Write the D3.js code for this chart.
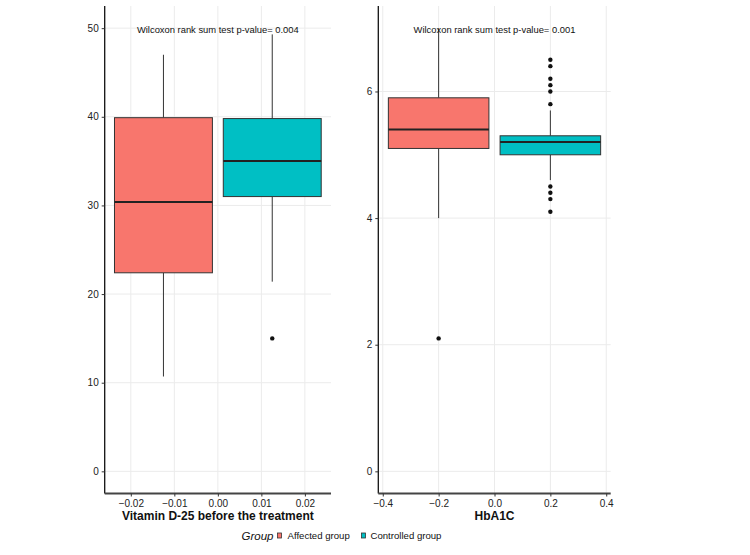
<!DOCTYPE html>
<html><head><meta charset="utf-8">
<script src="https://cdn.jsdelivr.net/npm/d3@7"></script>
<style>body{margin:0;background:#fff}svg{display:block;font-family:"Liberation Sans",Arial,sans-serif}</style>
</head><body><svg id="c" width="750" height="555"></svg>
<script>
// ---- data ----
const groups = ["Affected group", "Controlled group"];
const groupColors = ["#F8766D", "#00BFC4"];
// Vitamin D-25 before the treatment: [whiskerLow, Q1, median, Q3, whiskerHigh]
const vitDStats = [[10.7, 22.4, 30.4, 39.9, 47.0], [21.4, 31.0, 35.0, 39.8, 49.3]];
const vitDOutliers = [[], [15.0]];
const vitDPositions = [-0.0125, 0.0125];
const vitDYTicks = [0, 10, 20, 30, 40, 50];
const vitDXTicks = [-0.02, -0.01, 0.00, 0.01, 0.02];
// HbA1C
const hbaStats = [[4.0, 5.1, 5.4, 5.9, 7.0], [4.6, 5.0, 5.2, 5.3, 5.7]];
const hbaOutliers = [[2.1], [6.5, 6.4, 6.2, 6.1, 6.0, 5.8, 4.5, 4.4, 4.3, 4.1]];
const hbaPositions = [-0.2, 0.2];
const hbaYTicks = [0, 2, 4, 6];
const hbaXTicks = [-0.4, -0.2, 0.0, 0.2, 0.4];
const panelTitles = ["Vitamin D-25 before the treatment", "HbA1C"];
const pTexts = ["Wilcoxon rank sum test p-value= 0.004", "Wilcoxon rank sum test p-value= 0.001"];

const svg = d3.select("#c");

function panel(cfg) {
  const x = d3.scaleLinear().domain(cfg.xDomain).range([cfg.left, cfg.right]);
  const y = d3.scaleLinear().domain(cfg.yDomain).range([cfg.bottom, cfg.top]);
  const g = svg.append("g");
  // grid
  g.selectAll(".gx").data(cfg.xTicks).join("line")
    .attr("x1", d => x(d)).attr("x2", d => x(d)).attr("y1", cfg.top).attr("y2", cfg.bottom)
    .attr("stroke", "#ebebeb").attr("stroke-width", 1);
  g.selectAll(".gy").data(cfg.yTicks).join("line")
    .attr("y1", d => y(d)).attr("y2", d => y(d)).attr("x1", cfg.left).attr("x2", cfg.right)
    .attr("stroke", "#ebebeb").attr("stroke-width", 1);
  // boxes
  cfg.stats.forEach((s, i) => {
    const cx = x(cfg.pos[i]);
    const hw = (x(cfg.halfW) - x(0));
    const bg = g.append("g");
    bg.append("line").attr("x1", cx).attr("x2", cx).attr("y1", y(s[4])).attr("y2", y(s[3]))
      .attr("stroke", "#333").attr("stroke-width", 1);
    bg.append("line").attr("x1", cx).attr("x2", cx).attr("y1", y(s[1])).attr("y2", y(s[0]))
      .attr("stroke", "#333").attr("stroke-width", 1);
    bg.append("rect").attr("x", cx - hw).attr("width", 2 * hw)
      .attr("y", y(s[3])).attr("height", y(s[1]) - y(s[3]))
      .attr("fill", groupColors[i]).attr("stroke", "#333").attr("stroke-width", 1);
    bg.append("line").attr("x1", cx - hw).attr("x2", cx + hw).attr("y1", y(s[2])).attr("y2", y(s[2]))
      .attr("stroke", "#222").attr("stroke-width", 2);
    bg.selectAll("circle").data(cfg.outliers[i]).join("circle")
      .attr("cx", cx).attr("cy", d => y(d)).attr("r", 2.2).attr("fill", "#111");
  });
  // axes
  const ya = g.append("g").attr("transform", `translate(${cfg.left},0)`)
    .call(d3.axisLeft(y).tickValues(cfg.yTicks).tickFormat(d3.format("d")).tickSize(3).tickPadding(3));
  ya.select(".domain").attr("d", `M0,${cfg.top}V${cfg.bottom}`).attr("stroke", "#111").attr("stroke-width", 1.3);
  ya.selectAll(".tick line").attr("stroke", "#333");
  ya.selectAll(".tick text").attr("fill", "#222").attr("font-size", 10).attr("font-family", "Liberation Sans, Arial, sans-serif");
  const xa = g.append("g").attr("transform", `translate(0,${cfg.bottom})`)
    .call(d3.axisBottom(x).tickValues(cfg.xTicks).tickFormat(d3.format(cfg.xFmt)).tickSize(3).tickPadding(3.5));
  xa.select(".domain").attr("d", `M${cfg.left},0H${cfg.right}`).attr("stroke", "#444").attr("stroke-width", 2);
  xa.selectAll(".tick line").attr("stroke", "#333");
  xa.selectAll(".tick text").attr("fill", "#222").attr("font-size", 10).attr("font-family", "Liberation Sans, Arial, sans-serif");
  // titles
  g.append("text").attr("x", (cfg.left + cfg.right) / 2).attr("y", 520)
    .attr("text-anchor", "middle").attr("font-weight", "bold").attr("font-size", 12).attr("fill", "#111")
    .text(cfg.title);
  g.append("text").attr("x", x(0)).attr("y", 33)
    .attr("text-anchor", "middle").attr("font-size", 9.4).attr("fill", "#111")
    .text(cfg.pText);
}

panel({left: 104.7, right: 331, top: 6, bottom: 493.5, xDomain: [-0.026, 0.026], yDomain: [-2.5, 52.5],
  xTicks: vitDXTicks, yTicks: vitDYTicks, stats: vitDStats, outliers: vitDOutliers, pos: vitDPositions,
  halfW: 0.01125, xFmt: ".2f", title: panelTitles[0], pText: pTexts[0]});
panel({left: 378.3, right: 610.7, top: 6, bottom: 493.5, xDomain: [-0.416, 0.416], yDomain: [-0.35, 7.35],
  xTicks: hbaXTicks, yTicks: hbaYTicks, stats: hbaStats, outliers: hbaOutliers, pos: hbaPositions,
  halfW: 0.18, xFmt: ".1f", title: panelTitles[1], pText: pTexts[1]});

// legend
const lg = svg.append("g");
lg.append("text").attr("x", 241.5).attr("y", 540).attr("font-style", "italic").attr("font-size", 11.5)
  .attr("fill", "#111").text("Group");
const keyX = [277.5, 361.5];
const txtX = [287.5, 370.5];
groups.forEach((gname, i) => {
  lg.append("rect").attr("x", keyX[i]).attr("y", 533).attr("width", 4).attr("height", 5)
    .attr("fill", groupColors[i]).attr("stroke", "#333").attr("stroke-width", 0.8);
  lg.append("text").attr("x", txtX[i]).attr("y", 539).attr("font-size", 9.6).attr("fill", "#111").text(gname);
});
</script></body></html>
